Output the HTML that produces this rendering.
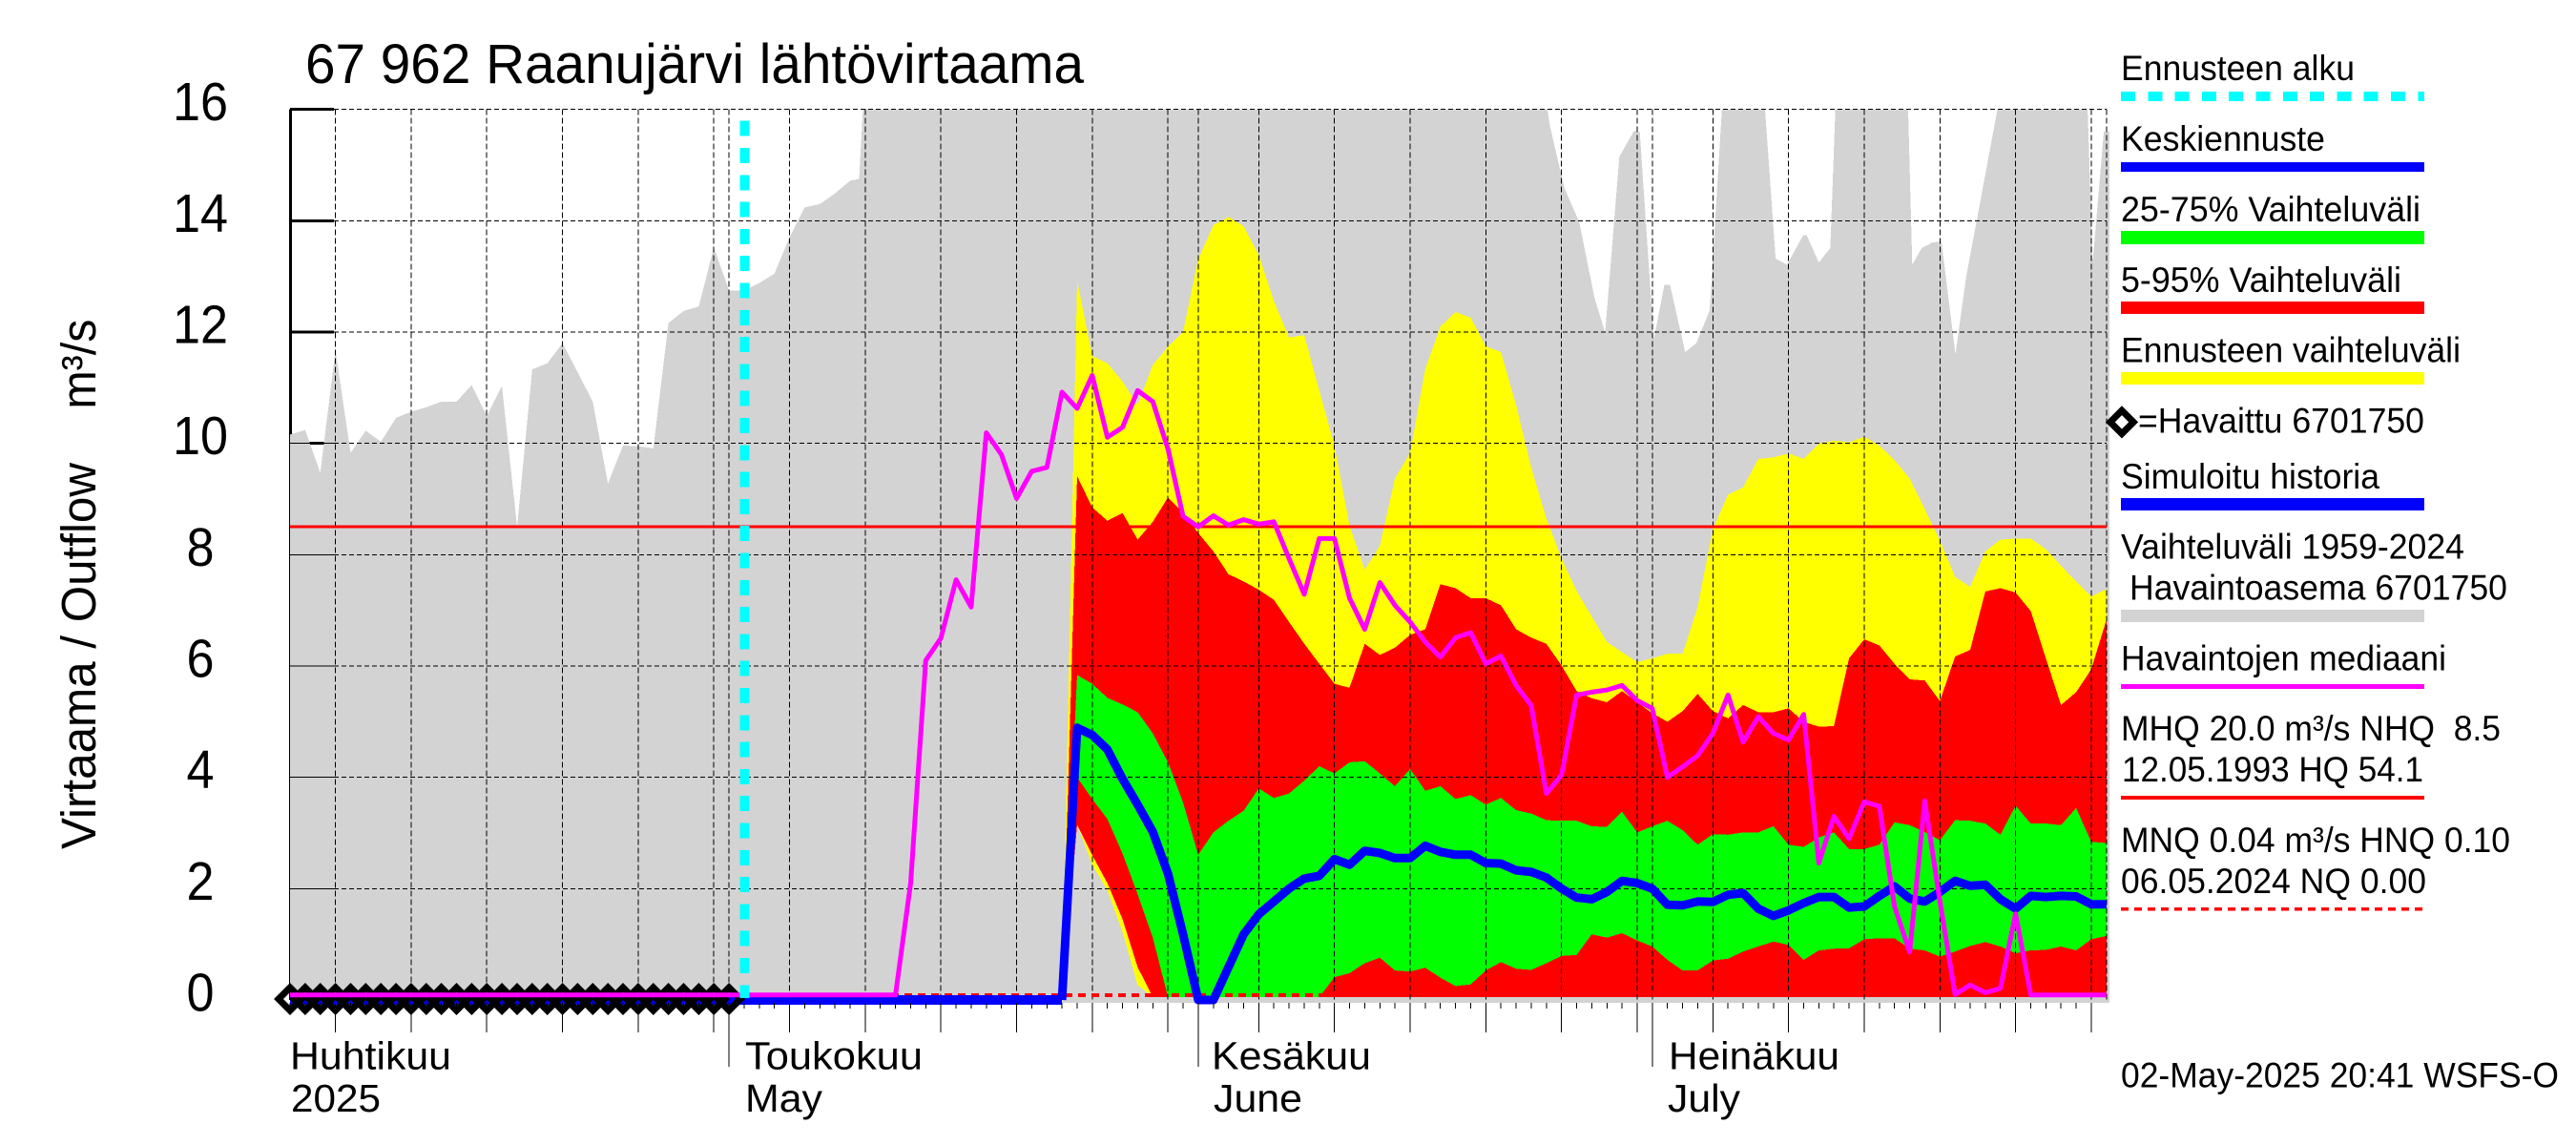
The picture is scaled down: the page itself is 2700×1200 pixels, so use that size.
<!DOCTYPE html>
<html lang="fi">
<head>
<meta charset="utf-8">
<title>67 962 Raanujärvi lähtövirtaama</title>
<style>
html,body{margin:0;padding:0;background:#fff;}
svg{display:block;}
text{font-family:"Liberation Sans",sans-serif;fill:#000;}
.lg{font-size:37px;}
.xl{font-size:41px;}
</style>
</head>
<body>
<svg id="chart" xmlns="http://www.w3.org/2000/svg" width="2700" height="1200" viewBox="0 0 2700 1200">
  <defs>
    <clipPath id="plot-clip"><rect x="304" y="114" width="1908" height="937"/></clipPath>
  </defs>
  <rect x="0" y="0" width="2700" height="1200" fill="#fff"/>
  <g id="axis-under"></g>
  <g id="fills" shape-rendering="crispEdges"></g>
  <g id="grid" shape-rendering="crispEdges"></g>
  <g id="refs" shape-rendering="crispEdges"></g>
  <g id="lines"></g>
  <g id="ticks" shape-rendering="crispEdges"></g>
  <g id="ylabels"></g>

  <text x="320" y="87" font-size="58" textLength="816" lengthAdjust="spacingAndGlyphs">67 962 Raanujärvi lähtövirtaama</text>

  <text transform="translate(100,890) rotate(-90)" font-size="51" textLength="405" lengthAdjust="spacingAndGlyphs">Virtaama / Outflow</text>
  <text transform="translate(100,428.6) rotate(-90)" font-size="51" textLength="94" lengthAdjust="spacingAndGlyphs">m³/s</text>

  <g>
    <text class="xl" x="304" y="1120.5" textLength="169" lengthAdjust="spacingAndGlyphs">Huhtikuu</text>
    <text class="xl" x="305" y="1165" textLength="94" lengthAdjust="spacingAndGlyphs">2025</text>
    <text class="xl" x="781" y="1120.5" textLength="186" lengthAdjust="spacingAndGlyphs">Toukokuu</text>
    <text class="xl" x="781" y="1165" textLength="81" lengthAdjust="spacingAndGlyphs">May</text>
    <text class="xl" x="1270" y="1120.5" textLength="167" lengthAdjust="spacingAndGlyphs">Kesäkuu</text>
    <text class="xl" x="1272" y="1165" textLength="93" lengthAdjust="spacingAndGlyphs">June</text>
    <text class="xl" x="1749" y="1120.5" textLength="179" lengthAdjust="spacingAndGlyphs">Heinäkuu</text>
    <text class="xl" x="1748" y="1165" textLength="76" lengthAdjust="spacingAndGlyphs">July</text>
  </g>

  <g>
    <text class="lg" x="2223" y="84.2" textLength="245" lengthAdjust="spacingAndGlyphs">Ennusteen alku</text>
    <line x1="2223" x2="2541" y1="101" y2="101" stroke="#00ffff" stroke-width="10" stroke-dasharray="15 13.3" shape-rendering="crispEdges"/>
    <text class="lg" x="2223" y="158" textLength="214" lengthAdjust="spacingAndGlyphs">Keskiennuste</text>
    <line x1="2223" x2="2541" y1="175" y2="175" stroke="#0000ff" stroke-width="10" shape-rendering="crispEdges"/>
    <text class="lg" x="2223" y="232" textLength="314" lengthAdjust="spacingAndGlyphs">25-75% Vaihteluväli</text>
    <line x1="2223" x2="2541" y1="249" y2="249" stroke="#00ff00" stroke-width="14" shape-rendering="crispEdges"/>
    <text class="lg" x="2223" y="306" textLength="294" lengthAdjust="spacingAndGlyphs">5-95% Vaihteluväli</text>
    <line x1="2223" x2="2541" y1="322.6" y2="322.6" stroke="#ff0000" stroke-width="13" shape-rendering="crispEdges"/>
    <text class="lg" x="2223" y="379.6" textLength="356" lengthAdjust="spacingAndGlyphs">Ennusteen vaihteluväli</text>
    <line x1="2223" x2="2541" y1="396.7" y2="396.7" stroke="#ffff00" stroke-width="13" shape-rendering="crispEdges"/>
    <path d="M2224 430.2 L2236.2 442.4 L2224 454.6 L2211.8 442.4 Z" fill="#fff" stroke="#000" stroke-width="7"/>
    <text class="lg" x="2241" y="453.5" textLength="300" lengthAdjust="spacingAndGlyphs">=Havaittu 6701750</text>
    <text class="lg" x="2223" y="512" textLength="271" lengthAdjust="spacingAndGlyphs">Simuloitu historia</text>
    <line x1="2223" x2="2541" y1="528.5" y2="528.5" stroke="#0000ff" stroke-width="13" shape-rendering="crispEdges"/>
    <text class="lg" x="2223" y="585.5" textLength="360" lengthAdjust="spacingAndGlyphs">Vaihteluväli 1959-2024</text>
    <text class="lg" x="2232" y="628.7" textLength="396" lengthAdjust="spacingAndGlyphs">Havaintoasema 6701750</text>
    <line x1="2223" x2="2541" y1="645.6" y2="645.6" stroke="#d3d3d3" stroke-width="13" shape-rendering="crispEdges"/>
    <text class="lg" x="2223" y="702.6" textLength="341" lengthAdjust="spacingAndGlyphs">Havaintojen mediaani</text>
    <line x1="2223" x2="2541" y1="719.6" y2="719.6" stroke="#ff00ff" stroke-width="5" shape-rendering="crispEdges"/>
    <text class="lg" x="2223" y="776" textLength="398" lengthAdjust="spacingAndGlyphs">MHQ 20.0 m³/s NHQ&#160;&#160;8.5</text>
    <text class="lg" x="2224" y="819" textLength="316" lengthAdjust="spacingAndGlyphs">12.05.1993 HQ 54.1</text>
    <line x1="2223" x2="2541" y1="836" y2="836" stroke="#ff0000" stroke-width="4" shape-rendering="crispEdges"/>
    <text class="lg" x="2223" y="892.8" textLength="408" lengthAdjust="spacingAndGlyphs">MNQ 0.04 m³/s HNQ 0.10</text>
    <text class="lg" x="2223" y="936" textLength="320" lengthAdjust="spacingAndGlyphs">06.05.2024 NQ 0.00</text>
    <line x1="2223" x2="2541" y1="952.5" y2="952.5" stroke="#ff0000" stroke-width="3.5" stroke-dasharray="8 6" shape-rendering="crispEdges"/>
    <text class="lg" x="2223" y="1139.6" textLength="459" lengthAdjust="spacingAndGlyphs">02-May-2025 20:41 WSFS-O</text>
  </g>
</svg>

<script>
// Historical range (grey), upper envelope: day index from the first plotted day, m3/s
const rangeDays = [0,1,2,3,4,5,6,7,8,9,10,11,12,13,14,15,16,17,18,19,20,21,22,23,24,25,26,27,28,29,30,31,32,33,34,35,36,37,37.6,37.85,83.07,83.24,84.19,85.18,86.18,86.88,87.82,88.8,89.17,90.1,90.8,91.17,92.17,92.9,93.79,94.6,97.45,98.15,98.9,99.97,100.2,101,101.76,102.09,106.9,107.17,107.8,108.5,109.1,110.03,110.73,112.8,118.76,119.09,119.83,120.2];
const rangeUpper = [10.16,10.24,9.47,11.67,9.83,10.23,10.03,10.46,10.57,10.65,10.75,10.75,11.05,10.49,11.03,8.5,11.33,11.44,11.8,11.28,10.75,9.28,9.96,9.95,9.91,12.16,12.38,12.46,13.52,12.75,12.75,12.88,13.05,13.7,14.24,14.3,14.49,14.72,14.75,16,16,15.7,14.59,13.97,12.62,11.99,15.15,15.62,15.6,11.87,12.85,12.85,11.64,11.8,12.39,16,16,13.32,13.21,13.74,13.74,13.25,13.51,16,16,13.21,13.51,13.61,13.63,11.6,12.98,16,16,13.25,15.6,15.6];
const rangeFloor = -0.05;

// Forecast series: one value per day, beginning on day index 51
const forecastStart = 51;
const forecastUpper = [0.05,12.92,11.57,11.44,11.11,10.69,11.41,11.74,12,13.31,13.92,14.07,13.9,13.38,12.56,11.9,11.95,10.95,9.96,8.52,7.73,8.16,9.37,9.83,11.34,12.1,12.36,12.26,11.74,11.64,10.69,9.57,8.65,7.93,7.35,6.89,6.43,6.25,6.07,6.14,6.22,6.22,7.06,8.46,9.08,9.21,9.72,9.75,9.82,9.72,10,10.05,10.02,10.12,9.96,9.7,9.37,8.82,8.26,7.6,7.42,8.06,8.27,8.29,8.29,8.1,7.8,7.52,7.25,7.38];
const forecastLower = [0.05,3.15,2.43,1.97,1.22,0.27,0.05,0.05,0.05,0.05,0.05,0.05,0.05,0.05,0.05,0.05,0.05,0.05,0.05,0.05,0.05,0.05,0.05,0.05,0.05,0.05,0.05,0.05,0.05,0.05,0.05,0.05,0.05,0.05,0.05,0.05,0.05,0.05,0.05,0.05,0.05,0.05,0.05,0.05,0.05,0.05,0.05,0.05,0.05,0.05,0.05,0.05,0.05,0.05,0.05,0.05,0.05,0.05,0.05,0.05,0.05,0.05,0.05,0.05,0.05,0.05,0.05,0.05,0.05,0.05];
const p95 = [0.05,9.41,8.85,8.61,8.75,8.27,8.59,9.03,8.75,8.39,8.06,7.65,7.52,7.37,7.19,6.79,6.4,6.04,5.68,5.61,6.4,6.2,6.33,6.56,6.66,7.47,7.4,7.22,7.22,7.09,6.66,6.51,6.4,6.01,5.55,5.42,5.35,5.55,5.35,5.15,5,5.19,5.5,5.19,5.06,5.3,5.17,5.17,5.24,5,4.91,4.92,6.14,6.48,6.37,6.04,5.76,5.74,5.37,6.17,6.29,7.34,7.4,7.32,6.99,6.14,5.3,5.53,5.94,6.83];
const p5 = [0.05,3.15,2.6,2.1,1.45,0.59,0.05,0.05,0.05,0.05,0.05,0.05,0.05,0.05,0.05,0.05,0.05,0.05,0.05,0.05,0.05,0.05,0.05,0.05,0.05,0.05,0.05,0.05,0.05,0.05,0.05,0.05,0.05,0.05,0.05,0.05,0.05,0.05,0.05,0.05,0.05,0.05,0.05,0.05,0.05,0.05,0.05,0.05,0.05,0.05,0.05,0.05,0.05,0.05,0.05,0.05,0.05,0.05,0.05,0.05,0.05,0.05,0.05,0.05,0.05,0.05,0.05,0.05,0.05,0.05];
const p75 = [0.05,5.84,5.68,5.43,5.31,5.17,4.79,4.27,3.55,2.61,3.01,3.22,3.4,3.8,3.63,3.71,3.94,4.2,4.07,4.27,4.29,4.07,3.84,4.15,3.76,3.84,3.61,3.68,3.51,3.63,3.41,3.35,3.23,3.22,3.22,3.12,3.11,3.38,3.01,3.12,3.22,3.05,2.79,2.98,2.97,3.01,3.01,3.12,2.79,2.75,2.92,3.01,2.71,2.71,2.79,3.19,3.14,3.02,2.87,3.23,3.22,3.17,2.97,3.49,3.17,3.17,3.14,3.45,2.84,2.82];
const p25 = [0.05,4,3.61,3.25,2.63,1.9,1.12,0.05,0.05,0.05,0.05,0.05,0.05,0.05,0.05,0.05,0.05,0.05,0.41,0.48,0.66,0.76,0.53,0.51,0.58,0.4,0.25,0.28,0.53,0.68,0.56,0.54,0.66,0.79,0.81,1.18,1.12,1.2,1.07,0.96,0.72,0.53,0.53,0.71,0.74,0.87,0.96,1.05,0.99,0.72,0.89,0.92,0.93,1.09,1.11,1.11,0.92,0.89,0.78,0.87,0.97,1.04,0.96,0.84,0.89,0.9,0.96,0.89,1.09,1.15];
const meanForecast = [0,4.89,4.76,4.5,3.97,3.51,3.02,2.27,1.18,0,0,0.59,1.18,1.54,1.77,2,2.18,2.23,2.53,2.43,2.68,2.64,2.55,2.55,2.77,2.66,2.61,2.61,2.46,2.45,2.33,2.3,2.2,2,1.84,1.81,1.94,2.14,2.1,2,1.71,1.7,1.77,1.76,1.89,1.92,1.64,1.51,1.61,1.74,1.85,1.85,1.66,1.68,1.87,2.04,1.82,1.77,1.94,2.14,2.05,2.07,1.81,1.64,1.87,1.85,1.87,1.86,1.72,1.72];

// Series that start on the first plotted day
const simulatedHistory = [0,0,0,0,0,0,0,0,0,0,0,0,0,0,0,0,0,0,0,0,0,0,0,0,0,0,0,0,0,0,0,0,0,0,0,0,0,0,0,0,0,0,0,0,0,0,0,0,0,0,0,0];
const observed = [0,0,0,0,0,0,0,0,0,0,0,0,0,0,0,0,0,0,0,0,0,0,0,0,0,0,0,0,0,0];
const median = [0.09,0.09,0.09,0.09,0.09,0.09,0.09,0.09,0.09,0.09,0.09,0.09,0.09,0.09,0.09,0.09,0.09,0.09,0.09,0.09,0.09,0.09,0.09,0.09,0.09,0.09,0.09,0.09,0.09,0.09,0.09,0.09,0.09,0.09,0.09,0.09,0.09,0.09,0.09,0.09,0.09,2.1,6.1,6.5,7.55,7.06,10.19,9.8,9.01,9.5,9.57,10.92,10.63,11.22,10.11,10.29,10.95,10.75,9.9,8.69,8.5,8.7,8.53,8.63,8.55,8.59,7.93,7.29,8.29,8.29,7.22,6.66,7.5,7.09,6.79,6.43,6.16,6.51,6.6,6.04,6.18,5.65,5.29,3.71,4.04,5.48,5.53,5.57,5.65,5.38,5.24,4,4.19,4.39,4.79,5.48,4.63,5.09,4.79,4.67,5.13,2.46,3.3,2.9,3.56,3.48,1.68,0.86,3.58,1.77,0.1,0.27,0.13,0.21,1.55,0.09,0.09,0.09,0.09,0.09,0.09];

// Reference levels and axis definitions
const nhqLevel = 8.5;
const hnqLevel = 0.09;
const forecastStartDay = 30.05;
const lastDay = 120;
const yTicks = [0,2,4,6,8,10,12,14,16];
const yTickLabels = ['0','2','4','6','8','10','12','14','16'];
const fiveDayTicks = [3,8,13,18,23,28,33,38,43,48,53,58,64,69,74,79,84,89,94,99,104,109,114,119];
const monthTicks = [29,60,90];

const NS = 'http://www.w3.org/2000/svg';
const x = d => 304 + 15.865 * d;
const y = v => 1048 - 58.33 * v;
const mk = (tag, parent) => { const el = document.createElementNS(NS, tag); parent.appendChild(el); return el; };
const group = id => document.getElementById(id);

function bandPoints(days, upper, lower) {
  const top = upper.map((v, i) => x(days[i]).toFixed(1) + ',' + y(v).toFixed(1));
  const bottom = lower.map((v, i) => x(days[i]).toFixed(1) + ',' + y(v).toFixed(1)).reverse();
  return top.concat(bottom).join(' ');
}
function linePoints(days, values) {
  return values.map((v, i) => x(days[i]).toFixed(1) + ',' + y(v).toFixed(1)).join(' ');
}
const forecastDays = forecastUpper.map((_, i) => forecastStart + i);
const medianDays = median.map((_, i) => i);
const historyDays = simulatedHistory.map((_, i) => i);

// Thick axis and ticks beneath the grey range
const under = group('axis-under');
const axisLine = mk('line', under);
axisLine.setAttribute('x1', 304.5);
axisLine.setAttribute('x2', 304.5);
axisLine.setAttribute('y1', y(16));
axisLine.setAttribute('y2', y(0));
axisLine.setAttribute('stroke', '#000');
axisLine.setAttribute('stroke-width', 3);
axisLine.setAttribute('shape-rendering', 'crispEdges');


yTicks.forEach(v => {
  const t = mk('line', under);
  t.setAttribute('x1', 304);
  t.setAttribute('x2', 350);
  t.setAttribute('y1', y(v));
  t.setAttribute('y2', y(v));
  t.setAttribute('stroke', '#000');
  t.setAttribute('stroke-width', 3);
  t.setAttribute('shape-rendering', 'crispEdges');
  
  
});

// Filled ranges
const fills = group('fills');
const greyBand = mk('polygon', fills);
greyBand.setAttribute('points', bandPoints(rangeDays, rangeUpper, rangeUpper.map(() => rangeFloor)));
greyBand.setAttribute('fill', '#d3d3d3');
greyBand.setAttribute('clip-path', 'url(#plot-clip)');



const yellowBand = mk('polygon', fills);
yellowBand.setAttribute('points', bandPoints(forecastDays, forecastUpper, forecastLower));
yellowBand.setAttribute('fill', '#ffff00');



const redBand = mk('polygon', fills);
redBand.setAttribute('points', bandPoints(forecastDays, p95, p5));
redBand.setAttribute('fill', '#ff0000');



const greenBand = mk('polygon', fills);
greenBand.setAttribute('points', bandPoints(forecastDays, p75, p25));
greenBand.setAttribute('fill', '#00ff00');



// Grid
const grid = group('grid');
yTicks.forEach(v => {
  const g = mk('line', grid);
  g.setAttribute('x1', 350);
  g.setAttribute('x2', x(lastDay));
  g.setAttribute('y1', y(v));
  g.setAttribute('y2', y(v));
  g.setAttribute('stroke', '#000');
  g.setAttribute('stroke-width', 1);
  g.setAttribute('stroke-dasharray', v === 0 ? '0 99999' : '5 3');
  
  
  const s = mk('line', grid);
  s.setAttribute('x1', 304);
  s.setAttribute('x2', 350);
  s.setAttribute('y1', y(v));
  s.setAttribute('y2', y(v));
  s.setAttribute('stroke', '#000');
  s.setAttribute('stroke-width', 1);
  
  
});
fiveDayTicks.concat(monthTicks, [lastDay]).forEach(d => {
  const g = mk('line', grid);
  g.setAttribute('x1', x(d));
  g.setAttribute('x2', x(d));
  g.setAttribute('y1', y(16));
  g.setAttribute('y2', y(0));
  g.setAttribute('stroke', '#000');
  g.setAttribute('stroke-width', 1);
  g.setAttribute('stroke-dasharray', '6 3');
  
  
});

// Reference lines
const refs = group('refs');
const nhqLine = mk('line', refs);
nhqLine.setAttribute('x1', x(0));
nhqLine.setAttribute('x2', x(lastDay));
nhqLine.setAttribute('y1', y(nhqLevel));
nhqLine.setAttribute('y2', y(nhqLevel));
nhqLine.setAttribute('stroke', '#ff0000');
nhqLine.setAttribute('stroke-width', 3);



const hnqLine = mk('line', refs);
hnqLine.setAttribute('x1', x(0));
hnqLine.setAttribute('x2', x(lastDay));
hnqLine.setAttribute('y1', y(hnqLevel));
hnqLine.setAttribute('y2', y(hnqLevel));
hnqLine.setAttribute('stroke', '#ff0000');
hnqLine.setAttribute('stroke-width', 4);
hnqLine.setAttribute('stroke-dasharray', '8 6');



// Lines
const lines = group('lines');
const simLine = mk('polyline', lines);
simLine.setAttribute('points', linePoints(historyDays, simulatedHistory));
simLine.setAttribute('fill', 'none');
simLine.setAttribute('stroke', '#0000ff');
simLine.setAttribute('stroke-width', 10);
simLine.setAttribute('shape-rendering', 'crispEdges');



const meanLine = mk('polyline', lines);
meanLine.setAttribute('points', linePoints(forecastDays, meanForecast));
meanLine.setAttribute('fill', 'none');
meanLine.setAttribute('stroke', '#0000ff');
meanLine.setAttribute('stroke-width', 9);
meanLine.setAttribute('stroke-linejoin', 'round');



observed.forEach((v, i) => {
  const m = mk('polygon', lines);
  const cx = x(i), cy = y(v) - 1, r = 12;
  m.setAttribute('points', [cx, cy - r, cx + r, cy, cx, cy + r, cx - r, cy].map(n => n.toFixed(1)).join(' '));
  m.setAttribute('fill', 'none');
  m.setAttribute('stroke', '#000');
  m.setAttribute('stroke-width', 7);
  
  
});

const medianLine = mk('polyline', lines);
medianLine.setAttribute('points', linePoints(medianDays, median));
medianLine.setAttribute('fill', 'none');
medianLine.setAttribute('stroke', '#ff00ff');
medianLine.setAttribute('stroke-width', 5);
medianLine.setAttribute('stroke-linejoin', 'round');



const startLine = mk('line', lines);
startLine.setAttribute('x1', x(forecastStartDay));
startLine.setAttribute('x2', x(forecastStartDay));
startLine.setAttribute('y1', 126.7);
startLine.setAttribute('y2', 1046);
startLine.setAttribute('stroke', '#00ffff');
startLine.setAttribute('stroke-width', 10);
startLine.setAttribute('stroke-dasharray', '16 12.3');
startLine.setAttribute('shape-rendering', 'crispEdges');



// X ticks
const ticks = group('ticks');
for (let d = 0; d < lastDay; d++) {
  const t = mk('line', ticks);
  t.setAttribute('x1', x(d));
  t.setAttribute('x2', x(d));
  t.setAttribute('y1', 1051);
  t.setAttribute('y2', 1057);
  t.setAttribute('stroke', '#000');
  t.setAttribute('stroke-width', 1);
  
  
}
fiveDayTicks.forEach(d => {
  const t = mk('line', ticks);
  t.setAttribute('x1', x(d));
  t.setAttribute('x2', x(d));
  t.setAttribute('y1', 1051);
  t.setAttribute('y2', 1082);
  t.setAttribute('stroke', '#000');
  t.setAttribute('stroke-width', 1);
  
  
});
monthTicks.forEach(d => {
  const t = mk('line', ticks);
  t.setAttribute('x1', x(d));
  t.setAttribute('x2', x(d));
  t.setAttribute('y1', 1051);
  t.setAttribute('y2', 1118);
  t.setAttribute('stroke', '#000');
  t.setAttribute('stroke-width', 1);
  
  
});

// Y tick labels
const ylabels = group('ylabels');
yTicks.forEach((v, i) => {
  const label = mk('text', ylabels);
  label.setAttribute('x', 210);
  label.setAttribute('y', y(v) + 11.5);
  label.setAttribute('font-size', 57);
  label.setAttribute('text-anchor', 'middle');
  label.setAttribute('textLength', yTickLabels[i].length * 29);
  label.setAttribute('lengthAdjust', 'spacingAndGlyphs');
  
  
  label.textContent = yTickLabels[i];
});
</script>
</body>
</html>
